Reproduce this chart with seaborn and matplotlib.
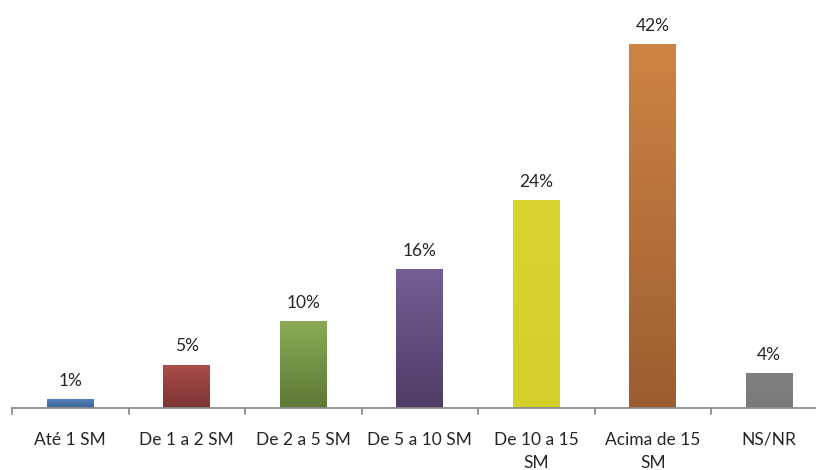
import matplotlib
matplotlib.use("Agg")
import matplotlib.pyplot as plt
from matplotlib.colors import LinearSegmentedColormap
import numpy as np
import pandas as pd
import seaborn as sns

categories = ["Até 1 SM", "De 1 a 2 SM", "De 2 a 5 SM", "De 5 a 10 SM",
              "De 10 a 15\nSM", "Acima de 15\nSM", "NS/NR"]
values = [1, 5, 10, 16, 24, 42, 4]
top_colors = ["#5382bd", "#ad4d4b", "#8ba955", "#745e94", "#d8d52e", "#ce8444", "#808080"]
bottom_colors = ["#3b6292", "#7a3432", "#5e7836", "#4e3c66", "#d2cf28", "#9b5d30", "#7a7a7a"]

sns.set_theme(style="white")
plt.rcParams["font.family"] = ["Lato", "DejaVu Sans"]

fig = plt.figure(figsize=(8.16, 4.70), dpi=100)
ax = fig.add_axes([12 / 816, 62 / 470, 815.5 / 816, (408 - 18) / 470])

df = pd.DataFrame({"cat": categories, "val": values})
sns.barplot(data=df, x="cat", y="val", ax=ax, width=0.4, color="white",
            edgecolor="none", linewidth=0)

ax.set_xlim(-0.5, len(categories) - 0.5)
ax.set_ylim(0, 45)

# vertical gradient fill clipped to each bar
for patch, v, ct, cb in zip(ax.patches, values, top_colors, bottom_colors):
    x0 = patch.get_x()
    w = patch.get_width()
    cmap = LinearSegmentedColormap.from_list("g", [cb, ct])
    grad = np.linspace(0, 1, 256).reshape(-1, 1)
    im = ax.imshow(grad, cmap=cmap, origin="lower", aspect="auto",
                   extent=(x0, x0 + w, 0, v), zorder=2, interpolation="bilinear")
    im.set_clip_path(patch)
    ax.text(x0 + w / 2, v + 1.2, f"{v}%", ha="center", va="bottom",
            fontsize=12.5, color="#262626")

ax.set_xlim(-0.5, len(categories) - 0.5)
ax.set_ylim(0, 45)

for s in ["top", "right", "left"]:
    ax.spines[s].set_visible(False)
ax.spines["bottom"].set_color("#8c8c8c")
ax.spines["bottom"].set_linewidth(1.3)
ax.set_yticks([])
ax.set_xlabel("")
ax.set_ylabel("")

ax.set_xticks(range(len(categories)))
ax.set_xticklabels(categories, fontsize=12.5, color="#262626", linespacing=1.6)
ax.tick_params(axis="x", length=0, pad=17)
# boundary tick marks between categories
for b in np.arange(-0.5, len(categories), 1.0):
    ax.plot([b, b], [0, -0.7], color="#8c8c8c", lw=1.3, clip_on=False, zorder=3)

fig.savefig("out.png", dpi=100, facecolor="white")
